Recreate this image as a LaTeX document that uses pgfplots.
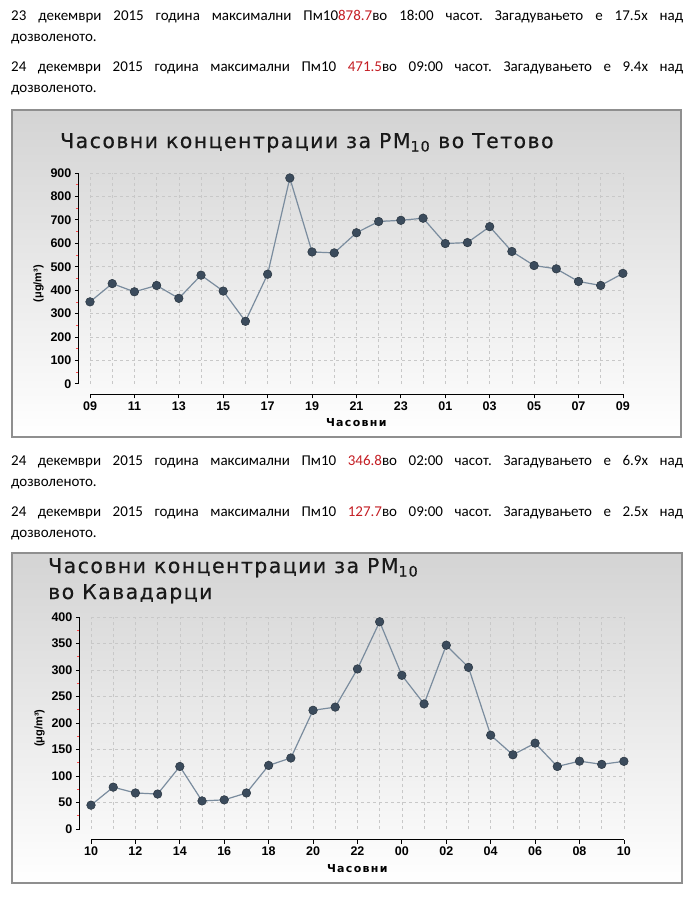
\documentclass[border=0pt]{standalone}
\usepackage{pgfplots}
\pgfplotsset{compat=1.18}
\usepackage{fontspec}
\setmainfont{Carlito}
\newfontfamily\titlefont[LetterSpace=7,FakeBold=0.4]{DejaVu Sans}
\newfontfamily\lblfont{Liberation Sans}
\newfontfamily\xlfont[LetterSpace=12]{DejaVu Sans}

\definecolor{redtxt}{HTML}{C41E24}
\definecolor{markc}{HTML}{3B4B5C}
\definecolor{linec}{HTML}{7A8C9E}
\definecolor{gridc}{HTML}{C8C8C8}
\definecolor{boxc}{HTML}{8F8F8F}

\tikzset{gridl/.style={gridc, dashed, line width=0.6pt}}
\pgfplotsset{
  pmstyle/.style={
    scale only axis, width=544pt,
    xmin=-0.5, xmax=24,
    axis x line*=bottom, axis y line*=left,
    x axis line style={draw=none}, y axis line style={draw=none},
    xtick={0,2,...,24},
    tick align=outside, major tick length=4pt,
    every tick/.style={black, line width=0.8pt},
    minor y tick num=1, minor tick length=3pt,
    every minor tick/.append style={red!70, line width=0.6pt},
    tick label style={font=\lblfont\bfseries\fontsize{12.5}{13}\selectfont},
    /pgf/number format/assume math mode=true,
    ylabel={(μg/m³)},
    ylabel style={font=\lblfont\bfseries\fontsize{11}{12}\selectfont},
    xlabel={Часовни},
    xlabel style={font=\xlfont\bfseries\fontsize{11}{12}\selectfont, at={(axis description cs:0.51,0)}, anchor=north, yshift=-21pt},
    clip=false,
  },
  pmline/.style={linec, line width=1.2pt, mark=*, mark size=4.3pt,
    mark options={fill=markc, draw=markc!70!black, line width=0.5pt}},
}

\begin{document}
\frenchspacing
\begin{tikzpicture}[x=1pt,y=1pt]
\path (0,0) rectangle (690,-899);

% text paragraphs
\tikzset{para/.style={anchor=north west, inner sep=0, text width=672pt, align=justify,
  font=\fontsize{15}{21}\selectfont}}
\node[para] at (11,-10)
  {23 декември 2015 година максимални Пм10\textcolor{redtxt}{878.7}во 18:00 часот. Загадувањето е 17.5x над\linebreak дозволеното.};
\node[para] at (11,-62)
  {24 декември 2015 година максимални Пм10 \textcolor{redtxt}{471.5}во 09:00 часот. Загадувањето е 9.4x над\linebreak дозволеното.};
\node[para] at (11,-455)
  {24 декември 2015 година максимални Пм10 \textcolor{redtxt}{346.8}во 02:00 часот. Загадувањето е 6.9x над\linebreak дозволеното.};
\node[para] at (11,-507)
  {24 декември 2015 година максимални Пм10 \textcolor{redtxt}{127.7}во 09:00 часот. Загадувањето е 2.5x над\linebreak дозволеното.};

% panel 1
\shade[top color=black!17, bottom color=white] (12,-110) rectangle (681,-437);
\draw[boxc, line width=1.3pt] (12,-110) rectangle (681,-437);
\node[anchor=base west, inner sep=0, font=\titlefont\fontsize{20.5}{22}\selectfont, text=black!90] at (60,-148)
  {Часовни концентрации за PM\textsubscript{10} во Тетово};

\begin{axis}[pmstyle, at={(78.9pt,-394.4pt)}, anchor=south west, height=221.4pt,
  ymin=-45, ymax=900, ytick={0,100,...,900},
  xticklabels={09,11,13,15,17,19,21,23,01,03,05,07,09}]
  \pgfplotsinvokeforeach{0,...,24}{\draw[gridl] (axis cs:#1,0) -- (axis cs:#1,900);}
  \pgfplotsinvokeforeach{100,200,...,900}{\draw[gridl] (axis cs:0,#1) -- (axis cs:24,#1);}
  \draw[black, line width=0.9pt] (axis cs:-0.5,0) -- (axis cs:-0.5,900);
  \draw[black, line width=0.9pt] (axis cs:0,-45) -- (axis cs:24,-45);
  \addplot[pmline] coordinates {
    (0,350) (1,428) (2,393) (3,420) (4,365) (5,464) (6,396) (7,267) (8,468)
    (9,878.7) (10,563) (11,559) (12,645) (13,693) (14,698) (15,707) (16,599)
    (17,603) (18,671) (19,565) (20,505) (21,491) (22,437) (23,420) (24,471.5)};
\end{axis}

% panel 2
\shade[top color=black!17, bottom color=white] (12,-553) rectangle (682,-883);
\draw[boxc, line width=1.3pt] (12,-553) rectangle (682,-883);
\node[anchor=base west, inner sep=0, font=\titlefont\fontsize{20.5}{22}\selectfont, text=black!90] at (48,-573)
  {Часовни концентрации за PM\textsubscript{10}};
\node[anchor=base west, inner sep=0, font=\titlefont\fontsize{20.5}{22}\selectfont, text=black!90] at (48,-599)
  {во Кавадарци};

\begin{axis}[pmstyle, at={(79.9pt,-839.6pt)}, anchor=south west, height=222.6pt,
  ymin=-20, ymax=400, ytick={0,50,...,400},
  xticklabels={10,12,14,16,18,20,22,00,02,04,06,08,10}]
  \pgfplotsinvokeforeach{0,...,24}{\draw[gridl] (axis cs:#1,0) -- (axis cs:#1,400);}
  \pgfplotsinvokeforeach{50,100,...,400}{\draw[gridl] (axis cs:0,#1) -- (axis cs:24,#1);}
  \draw[black, line width=0.9pt] (axis cs:-0.5,0) -- (axis cs:-0.5,400);
  \draw[black, line width=0.9pt] (axis cs:0,-20) -- (axis cs:24,-20);
  \addplot[pmline] coordinates {
    (0,45) (1,79) (2,68) (3,66) (4,118) (5,53) (6,55) (7,68) (8,120) (9,134)
    (10,224) (11,230) (12,302) (13,391) (14,290) (15,236) (16,346.8) (17,305)
    (18,177) (19,140) (20,162) (21,118) (22,128) (23,122) (24,127.7)};
\end{axis}
\end{tikzpicture}
\end{document}
